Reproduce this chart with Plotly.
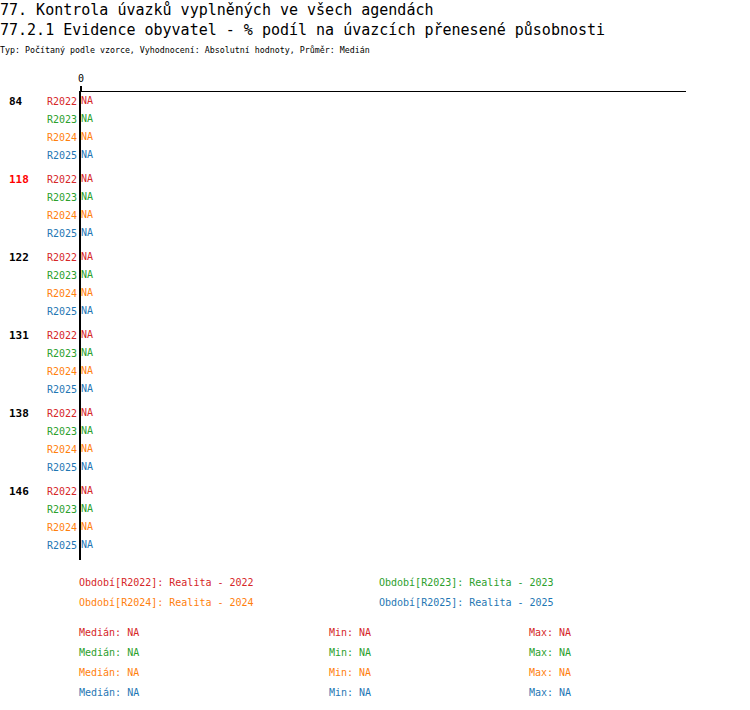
import plotly.graph_objects as go

# data
groups = ["84", "118", "122", "131", "138", "146"]
highlight = ["118"]
periods = ["R2022", "R2023", "R2024", "R2025"]
period_names = ["Realita - 2022", "Realita - 2023", "Realita - 2024", "Realita - 2025"]
values = {p: [None] * len(groups) for p in periods}   # all NA
stats = {p: {"Medián": "NA", "Min": "NA", "Max": "NA"} for p in periods}

colors = ["#d62728", "#2ca02c", "#ff7f0e", "#1f77b4"]
FONT = "DejaVu Sans Mono"

W, H = 750, 710
L, R, T, B = 81, 686, 92, 560


def px(x):
    return (x - L) / (R - L)


def py(y):
    return (B - y) / (B - T)


# row positions (1 unit = one row)
gap = 1 / 3
ypos = {}
for g, grp in enumerate(groups):
    for k, p in enumerate(periods):
        ypos[(grp, p)] = 0.5 + g * (len(periods) + gap) + k

fig = go.Figure()

tickvals, ticktext = [], []
for k, p in enumerate(periods):
    ys = [ypos[(grp, p)] for grp in groups]
    txt = ["NA" if v is None else str(v) for v in values[p]]
    fig.add_trace(go.Scatter(x=[0] * len(groups), y=ys, mode="text", text=txt,
                             textposition="middle right",
                             textfont=dict(family=FONT, size=10, color=colors[k]),
                             showlegend=False, hoverinfo="skip"))
    for y in ys:
        tickvals.append(y)
        ticktext.append(f"<span style='color:{colors[k]}'>{p}</span>")

annotations = []
for grp in groups:
    annotations.append(dict(x=px(9), y=ypos[(grp, periods[0])], xref="paper", yref="y",
                            text=f"<b>{grp}</b>", showarrow=False, xanchor="left",
                            font=dict(family=FONT, size=11,
                                      color="#ff0000" if grp in highlight else "black")))

# titles
annotations += [
    dict(x=px(0), y=py(10), text="77. Kontrola úvazků vyplněných ve všech agendách",
         font=dict(family=FONT, size=15, color="black")),
    dict(x=px(0), y=py(30), text="77.2.1 Evidence obyvatel - % podíl na úvazcích přenesené působnosti",
         font=dict(family=FONT, size=15, color="black")),
    dict(x=px(0), y=py(50), text="Typ: Počítaný podle vzorce, Vyhodnocení: Absolutní hodnoty, Průměr: Medián",
         font=dict(family=FONT, size=8.3, color="black")),
]

# period legend
leg_pos = [(79, 582), (379, 582), (79, 602), (379, 602)]
for k, p in enumerate(periods):
    x, y = leg_pos[k]
    annotations.append(dict(x=px(x), y=py(y), text=f"Období[{p}]: {period_names[k]}",
                            font=dict(family=FONT, size=10, color=colors[k])))

# stats
for k, p in enumerate(periods):
    y = 632 + 20 * k
    for x, key in [(79, "Medián"), (329, "Min"), (529, "Max")]:
        annotations.append(dict(x=px(x), y=py(y), text=f"{key}: {stats[p][key]}",
                                font=dict(family=FONT, size=10, color=colors[k])))

for a in annotations:
    a.setdefault("xref", "paper")
    a.setdefault("yref", "paper")
    a.setdefault("showarrow", False)
    a.setdefault("xanchor", "left")
    a.setdefault("yanchor", "middle")
    a.setdefault("xshift", -2)

fig.update_layout(
    width=W, height=H,
    margin=dict(l=L, r=W - R, t=T, b=H - B),
    plot_bgcolor="white", paper_bgcolor="white",
    annotations=annotations,
    xaxis=dict(side="top", range=[0, 1], showgrid=False, zeroline=False,
               showline=True, linecolor="black", linewidth=1,
               tickvals=[0], ticktext=["0"], ticks="outside", ticklen=5, tickwidth=2,
               tickcolor="black", tickfont=dict(family=FONT, size=10, color="black")),
    yaxis=dict(range=[ypos[(groups[-1], periods[-1])] + 0.83, 0], showgrid=False, zeroline=False,
               showline=True, linecolor="black", linewidth=2,
               tickvals=tickvals, ticktext=ticktext, ticks="",
               tickfont=dict(family=FONT, size=10)),
)

# page body margin off, so the figure sits at the window's corner
fig.write_html("out.html", config={"displayModeBar": False},
               post_script="document.body.style.margin = '0';")
